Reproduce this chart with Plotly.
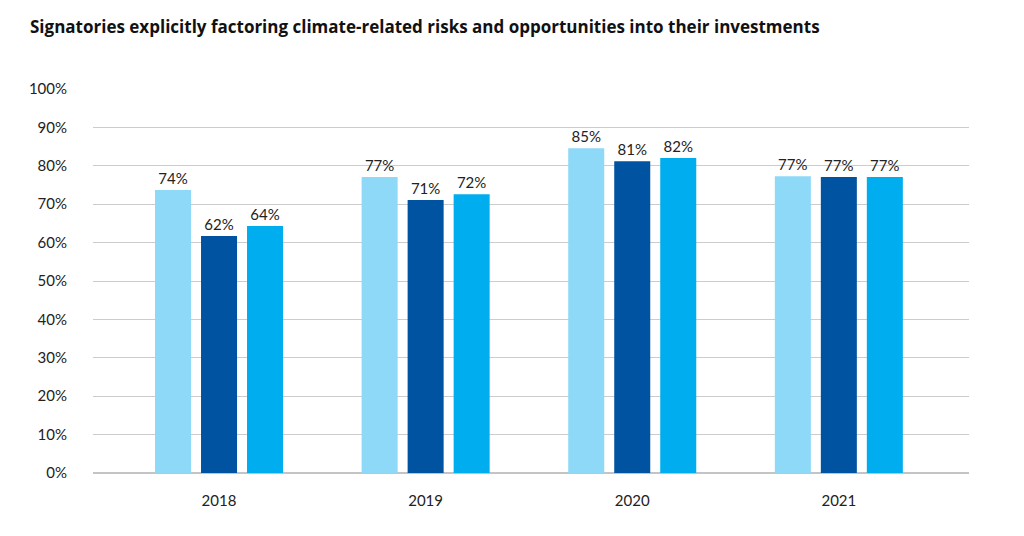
import plotly.graph_objects as go

years = ["2018", "2019", "2020", "2021"]
series_a = [73.7, 77.1, 84.6, 77.3]
series_b = [61.7, 71.1, 81.2, 77.1]
series_c = [64.3, 72.6, 82.0, 77.1]
labels_a = ["74%", "77%", "85%", "77%"]
labels_b = ["62%", "71%", "81%", "77%"]
labels_c = ["64%", "72%", "82%", "77%"]
colors = ["#8ed8f8", "#0053a1", "#00aeef"]
y_ticks = list(range(0, 101, 10))
y_tick_text = [f"{v}%" for v in y_ticks]

FONT = "Lato"

fig = go.Figure()
for vals, labs, col in zip([series_a, series_b, series_c], [labels_a, labels_b, labels_c], colors):
    fig.add_trace(go.Bar(
        x=years, y=vals, text=labs, textposition="outside",
        textfont=dict(family=FONT, size=15, color="#222222"),
        marker=dict(color=col, line=dict(width=0)),
        cliponaxis=False, showlegend=False, hoverinfo="skip",
    ))

fig.update_layout(
    width=1024, height=536,
    margin=dict(l=85, r=63, t=81, b=71),
    paper_bgcolor="white", plot_bgcolor="white",
    barmode="group", bargap=0.332, bargroupgap=0.217,
    title=dict(text="<b>Signatories explicitly factoring climate-related risks and opportunities into their investments</b>",
               x=22/1024, xanchor="left", y=1-19/536, yanchor="middle",
               font=dict(family="Open Sans", size=17, color="#111111")),
    xaxis=dict(type="category", range=[-0.61, 3.63], showgrid=False, showline=False,
               ticks="outside", ticklen=14, tickcolor="rgba(0,0,0,0)",
               tickfont=dict(family=FONT, size=15, color="#222222")),
    yaxis=dict(range=[0, 100], tickvals=y_ticks, ticktext=y_tick_text,
               showgrid=True, gridcolor="#cccccc", gridwidth=1,
               zeroline=True, zerolinecolor="#c4c4c4", zerolinewidth=2,
               showline=False, ticks="outside", ticklen=22, tickcolor="rgba(0,0,0,0)",
               tickfont=dict(family=FONT, size=15, color="#222222")),
)

fig.write_html("out.html")
